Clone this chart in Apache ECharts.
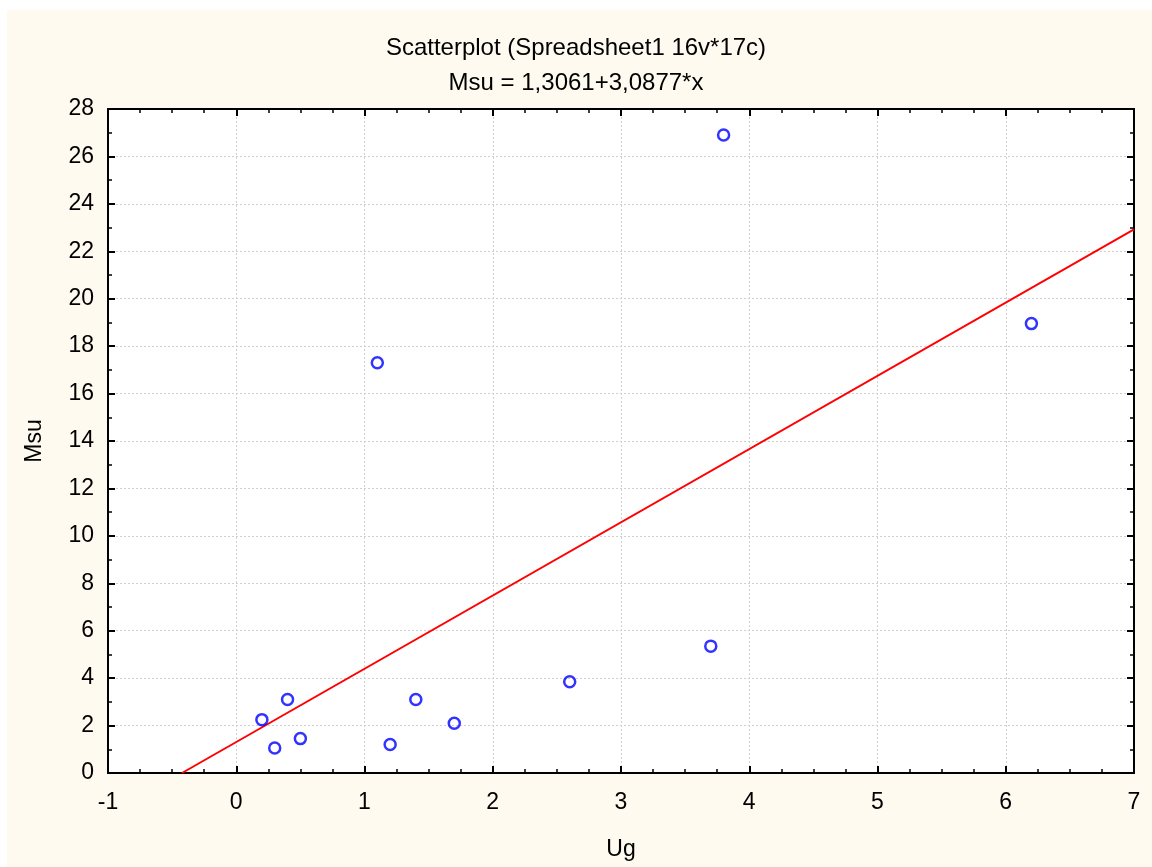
<!DOCTYPE html>
<html>
<head>
<meta charset="utf-8">
<script src="https://cdn.jsdelivr.net/npm/echarts@6/dist/echarts.min.js"></script>
<style>
html,body{margin:0;padding:0;background:#ffffff;}
#bg{position:absolute;left:7px;top:10px;width:1145px;height:857px;background:#fefaf0;}
#chart{position:absolute;left:0;top:0;width:1152px;height:867px;}
</style>
</head>
<body>
<div id="bg"></div>
<div id="chart"></div>
<script>
// Data
const ugValues  = [0.2, 0.3, 0.4, 0.5, 1.1, 1.2, 1.4, 1.7, 2.6, 3.7, 3.8, 6.2];
const msuValues = [2.25, 1.05, 3.1, 1.45, 17.3, 1.2, 3.1, 2.1, 3.85, 5.35, 26.9, 18.95];
// Regression line from the title: Msu = 1,3061 + 3,0877*x
const intercept = 1.3061;
const slope = 3.0877;
const lineXEnds = [-0.423, 7];
const xTicks = [-1, 0, 1, 2, 3, 4, 5, 6, 7];
const yTicks = [0, 2, 4, 6, 8, 10, 12, 14, 16, 18, 20, 22, 24, 26, 28];

const points = ugValues.map((x, i) => [x, msuValues[i]]);
const linePts = lineXEnds.map(x => [x, intercept + slope * x]);

const font = 'Arial, "Liberation Sans", sans-serif';
const chart = echarts.init(document.getElementById('chart'), null, {renderer: 'canvas'});

const tickStyle = {show: true, inside: true, length: 7, lineStyle: {color: '#000', width: 2}};
const lineStyleAx = {show: true, onZero: false, lineStyle: {color: '#000', width: 2}};
const baseX = {
  type: 'value', min: xTicks[0], max: xTicks[xTicks.length - 1], interval: 1,
  axisLine: lineStyleAx, axisTick: tickStyle,
  minorTick: {show: true, splitNumber: 4, length: 4, lineStyle: {color: '#000', width: 1.5}},
};
const baseY = {
  type: 'value', min: yTicks[0], max: yTicks[yTicks.length - 1], interval: 2,
  axisLine: lineStyleAx, axisTick: tickStyle,
  minorTick: {show: true, splitNumber: 2, length: 4, lineStyle: {color: '#000', width: 1.5}},
};
const grid = {show: true, lineStyle: {color: '#cfcfcf', type: [2, 2], width: 1}};

chart.setOption({
  backgroundColor: 'transparent',
  animation: false,
  title: {
    text: 'Scatterplot (Spreadsheet1 16v*17c)\nMsu = 1,3061+3,0877*x',
    left: 'center',
    top: 26,
    textStyle: {fontFamily: font, fontSize: 24, fontWeight: 'normal', color: '#000', lineHeight: 35},
  },
  grid: {left: 108, top: 109, right: 18, bottom: 94, show: true, borderColor: '#000', borderWidth: 2, backgroundColor: '#ffffff'},
  xAxis: [
    Object.assign({}, baseX, {
      position: 'bottom',
      name: 'Ug', nameLocation: 'middle', nameGap: 65,
      nameTextStyle: {fontFamily: font, fontSize: 23, color: '#000'},
      axisLabel: {fontFamily: font, fontSize: 23, color: '#000', margin: 18},
      splitLine: grid,
    }),
    Object.assign({}, baseX, {
      position: 'top',
      axisLabel: {show: false},
      splitLine: {show: false},
    }),
  ],
  yAxis: [
    Object.assign({}, baseY, {
      position: 'left',
      name: 'Msu', nameLocation: 'middle', nameGap: 62, nameRotate: 90,
      nameTextStyle: {fontFamily: font, fontSize: 23, color: '#000'},
      axisLabel: {fontFamily: font, fontSize: 23, color: '#000', margin: 14},
      splitLine: grid,
    }),
    Object.assign({}, baseY, {
      position: 'right',
      axisLabel: {show: false},
      splitLine: {show: false},
    }),
  ],
  series: [
    {
      type: 'line',
      data: linePts,
      xAxisIndex: 0, yAxisIndex: 0,
      showSymbol: false,
      symbol: 'none',
      clip: true,
      lineStyle: {color: '#ff0000', width: 2},
      z: 2,
    },
    {
      type: 'scatter',
      data: points,
      xAxisIndex: 0, yAxisIndex: 0,
      symbol: 'circle',
      symbolSize: 11,
      itemStyle: {color: 'rgba(0,0,0,0)', borderColor: '#0000ff', borderWidth: 2.5},
      z: 3,
    },
  ],
});
</script>
</body>
</html>
